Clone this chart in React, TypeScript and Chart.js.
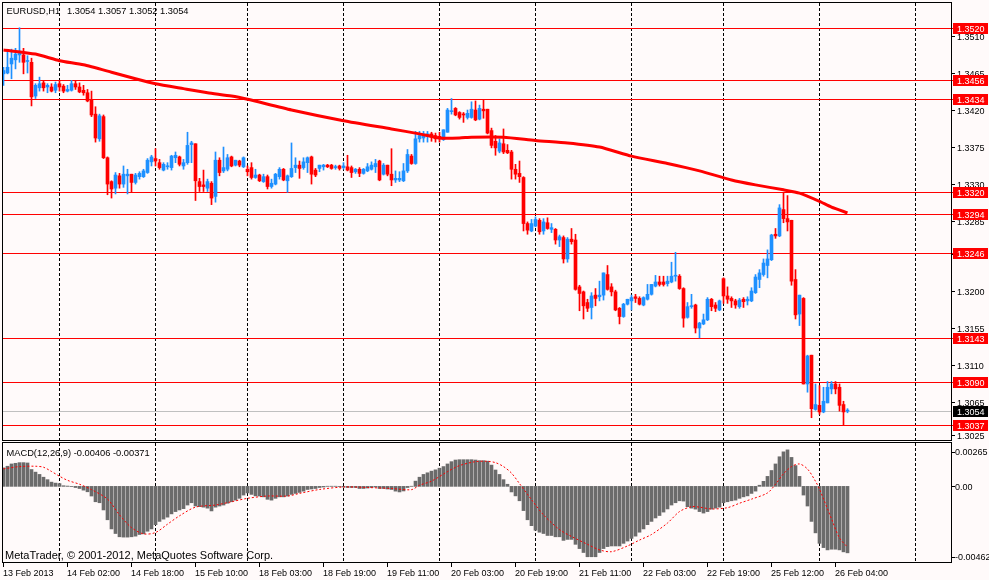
import { useEffect, useRef } from 'react';
import Chart from 'chart.js/auto';

const BG = '#fffafa';
const BULL = '#1e90ff';
const BEAR = '#ff0000';
const HIST = '#6b6b6b';
const FONT = '"Liberation Sans", Arial, sans-serif';

const WIDTH = 989;
const MAIN_HEIGHT = 441;
const MACD_HEIGHT = 139;
const X_MIN = -0.125;
const X_MAX = 236.875;
const PRICE_MIN = 1.30189;
const PRICE_MAX = 1.35501;

const symbol = 'EURUSD,H1';

// H1 candles, 13 Feb 10:00 .. 26 Feb 07:00
const opens = [
  1.3464, 1.3465, 1.3476, 1.3481, 1.3487, 1.3487, 1.3479, 1.3478, 1.3437, 1.3447,
  1.3453, 1.3448, 1.3448, 1.3444, 1.3452, 1.3449, 1.3443, 1.3444, 1.3452, 1.3448,
  1.3444, 1.3441, 1.3432, 1.3415, 1.3385, 1.3412, 1.3362, 1.3333, 1.3325, 1.334,
  1.333, 1.334, 1.3342, 1.3332, 1.3339, 1.3339, 1.3344, 1.3357, 1.3361, 1.3356,
  1.3347, 1.3351, 1.335, 1.3362, 1.3363, 1.3352, 1.3356, 1.3378, 1.3379, 1.3333,
  1.3329, 1.3325, 1.3331, 1.3315, 1.3359, 1.3346, 1.3348, 1.3363, 1.3353, 1.3358,
  1.3351, 1.3348, 1.335, 1.3338, 1.3341, 1.3333, 1.3339, 1.3327, 1.333, 1.3339,
  1.3348, 1.3334, 1.3339, 1.335, 1.3353, 1.335, 1.3356, 1.3363, 1.3347, 1.3349,
  1.3351, 1.3353, 1.3353, 1.335, 1.3352, 1.335, 1.3351, 1.335, 1.3345, 1.3348,
  1.3343, 1.3346, 1.3348, 1.3351, 1.3358, 1.3342, 1.3353, 1.3342, 1.3335, 1.3335,
  1.3334, 1.3346, 1.3364, 1.3355, 1.3385, 1.3386, 1.3389, 1.3391, 1.3389, 1.3388,
  1.3384, 1.3393, 1.3418, 1.3422, 1.3417, 1.3415, 1.3411, 1.3411, 1.342, 1.3409,
  1.3421, 1.3421, 1.3395, 1.3382, 1.337, 1.3379, 1.3371, 1.3369, 1.3348, 1.3343,
  1.3338, 1.3282, 1.3273, 1.3279, 1.3286, 1.3273, 1.3283, 1.3275, 1.3275, 1.3262,
  1.3265, 1.3239, 1.3263, 1.3262, 1.3205, 1.3199, 1.3186, 1.318, 1.3195, 1.3193,
  1.3195, 1.322, 1.3205, 1.3199, 1.3179, 1.3169, 1.3184, 1.3188, 1.3193, 1.3191,
  1.3183, 1.319, 1.3196, 1.3206, 1.3211, 1.3211, 1.3209, 1.3211, 1.3218, 1.3218,
  1.3203, 1.3168, 1.3181, 1.3183, 1.3155, 1.316, 1.3165, 1.319, 1.3183, 1.3177,
  1.3215, 1.3194, 1.3191, 1.3188, 1.3181, 1.319, 1.3188, 1.3188, 1.3198, 1.3214,
  1.322, 1.3231, 1.3238, 1.3269, 1.3267, 1.3299, 1.3288, 1.3286, 1.3214, 1.3172,
  1.3191, 1.3087, 1.3122, 1.3056, 1.3061, 1.3053, 1.3064, 1.3081, 1.3087, 1.3083,
  1.3062, 1.3054,
];
const highs = [
  1.3472, 1.3492, 1.3494, 1.3495, 1.352, 1.3495, 1.3486, 1.3483, 1.3452, 1.346,
  1.3456, 1.3452, 1.3452, 1.3454, 1.3456, 1.3451, 1.345, 1.3456, 1.3456, 1.3453,
  1.345, 1.3445, 1.3443, 1.3424, 1.3415, 1.3414, 1.3363, 1.3334, 1.3344, 1.3343,
  1.3352, 1.3348, 1.3342, 1.3343, 1.3345, 1.3348, 1.3361, 1.3365, 1.3373, 1.336,
  1.3356, 1.3356, 1.3365, 1.3369, 1.3364, 1.336, 1.3393, 1.3382, 1.3379, 1.3337,
  1.3347, 1.3336, 1.3333, 1.3369, 1.3362, 1.3375, 1.3366, 1.3364, 1.3359, 1.3359,
  1.3363, 1.3352, 1.3356, 1.3348, 1.3342, 1.3342, 1.3341, 1.3336, 1.3343, 1.335,
  1.3349, 1.3341, 1.338, 1.3362, 1.3358, 1.3362, 1.3363, 1.3364, 1.3349, 1.3353,
  1.3354, 1.3354, 1.3354, 1.3353, 1.3353, 1.3356, 1.3365, 1.3352, 1.3349, 1.335,
  1.3349, 1.3355, 1.3357, 1.336, 1.3359, 1.3355, 1.3353, 1.3373, 1.3346, 1.3345,
  1.3355, 1.3372, 1.3366, 1.3394, 1.3394, 1.3394, 1.3394, 1.3393, 1.3392, 1.3393,
  1.3396, 1.3422, 1.3434, 1.3423, 1.3418, 1.3417, 1.342, 1.343, 1.3431, 1.3426,
  1.3432, 1.3421, 1.3398, 1.3389, 1.3385, 1.3397, 1.3378, 1.3371, 1.3354, 1.3358,
  1.3339, 1.3284, 1.3287, 1.329, 1.3288, 1.3288, 1.3289, 1.3282, 1.3276, 1.3268,
  1.3267, 1.3265, 1.3276, 1.3269, 1.3207, 1.32, 1.319, 1.3198, 1.3203, 1.3212,
  1.3222, 1.3231, 1.3209, 1.3201, 1.318, 1.3185, 1.319, 1.3195, 1.3196, 1.3193,
  1.3193, 1.3208, 1.3208, 1.3219, 1.3218, 1.3218, 1.3218, 1.3235, 1.3247, 1.322,
  1.3204, 1.3186, 1.3196, 1.3184, 1.3162, 1.3172, 1.3192, 1.3191, 1.3186, 1.3189,
  1.3216, 1.3205, 1.3193, 1.319, 1.3191, 1.3192, 1.3193, 1.3204, 1.322, 1.3226,
  1.3239, 1.325, 1.3269, 1.3276, 1.3305, 1.332, 1.3316, 1.3286, 1.3226, 1.3195,
  1.3192, 1.3122, 1.3122, 1.3087, 1.3085, 1.3083, 1.309, 1.309, 1.309, 1.3087,
  1.3066, 1.3057,
];
const lows = [
  1.345, 1.3464, 1.3458, 1.347, 1.3478, 1.3464, 1.3465, 1.3425, 1.3434, 1.3443,
  1.3443, 1.3441, 1.3442, 1.3441, 1.3443, 1.3441, 1.3442, 1.3443, 1.3445, 1.3441,
  1.3438, 1.343, 1.3412, 1.3381, 1.3382, 1.3361, 1.3317, 1.3313, 1.3318, 1.3325,
  1.3326, 1.3318, 1.332, 1.333, 1.3336, 1.3338, 1.3343, 1.3352, 1.3352, 1.3348,
  1.3346, 1.3348, 1.3347, 1.3356, 1.3352, 1.3348, 1.3354, 1.3356, 1.331, 1.3321,
  1.3321, 1.3321, 1.3305, 1.3308, 1.334, 1.3344, 1.3346, 1.3351, 1.3352, 1.3351,
  1.335, 1.334, 1.3336, 1.3337, 1.3333, 1.3332, 1.3324, 1.3325, 1.3329, 1.3336,
  1.3334, 1.332, 1.3338, 1.3344, 1.3337, 1.3348, 1.3344, 1.333, 1.3339, 1.3345,
  1.3347, 1.335, 1.3348, 1.3348, 1.3347, 1.3348, 1.3346, 1.3338, 1.3343, 1.3339,
  1.3342, 1.3345, 1.3347, 1.3344, 1.3334, 1.3341, 1.334, 1.3328, 1.3332, 1.3333,
  1.3333, 1.3344, 1.3354, 1.3354, 1.3381, 1.3381, 1.3381, 1.3382, 1.3381, 1.3381,
  1.3383, 1.3393, 1.3415, 1.3413, 1.3409, 1.3405, 1.3409, 1.341, 1.3407, 1.3408,
  1.341, 1.3391, 1.3374, 1.3365, 1.3368, 1.3367, 1.3367, 1.3336, 1.3336, 1.3332,
  1.3273, 1.3269, 1.3272, 1.3278, 1.3269, 1.3269, 1.3275, 1.3271, 1.3257, 1.3254,
  1.3234, 1.3235, 1.3257, 1.3201, 1.3176, 1.3166, 1.3175, 1.3166, 1.3182, 1.3188,
  1.3189, 1.3201, 1.3194, 1.3176, 1.316, 1.3168, 1.3183, 1.3177, 1.3186, 1.3183,
  1.3182, 1.3189, 1.3195, 1.3205, 1.3206, 1.3206, 1.3206, 1.321, 1.3212, 1.3202,
  1.3156, 1.3167, 1.3179, 1.3149, 1.3143, 1.3159, 1.3164, 1.3176, 1.3175, 1.3176,
  1.3185, 1.3185, 1.318, 1.3179, 1.3179, 1.318, 1.3183, 1.3187, 1.3197, 1.3204,
  1.3218, 1.3216, 1.3237, 1.3264, 1.3266, 1.3283, 1.3273, 1.3207, 1.3166, 1.3158,
  1.3087, 1.3077, 1.3046, 1.3055, 1.305, 1.3052, 1.3064, 1.3075, 1.3075, 1.3054,
  1.3037, 1.3052,
];
const closes = [
  1.3468, 1.3472, 1.3483, 1.3488, 1.3489, 1.3478, 1.348, 1.3436, 1.345, 1.3452,
  1.3447, 1.345, 1.3443, 1.3451, 1.3448, 1.3443, 1.3445, 1.3452, 1.3448, 1.3442,
  1.3441, 1.3431, 1.3414, 1.3386, 1.3413, 1.3362, 1.333, 1.3324, 1.3341, 1.333,
  1.3342, 1.3342, 1.3332, 1.3341, 1.3343, 1.3346, 1.3359, 1.3363, 1.3358, 1.335,
  1.3354, 1.3352, 1.3364, 1.3365, 1.3354, 1.3356, 1.3377, 1.338, 1.3334, 1.3327,
  1.3327, 1.3333, 1.3313, 1.3359, 1.3344, 1.335, 1.3362, 1.3352, 1.3359, 1.3353,
  1.3362, 1.3345, 1.3338, 1.3341, 1.3334, 1.3339, 1.3327, 1.3331, 1.3342, 1.3348,
  1.3335, 1.334, 1.3349, 1.3353, 1.3349, 1.3357, 1.3362, 1.3342, 1.3341, 1.3353,
  1.3353, 1.3351, 1.3349, 1.3351, 1.3349, 1.3352, 1.3347, 1.3344, 1.3348, 1.3343,
  1.3348, 1.3351, 1.3353, 1.3355, 1.3335, 1.3353, 1.3342, 1.3335, 1.3337, 1.3337,
  1.3346, 1.3366, 1.3355, 1.3385, 1.3389, 1.3391, 1.3391, 1.3387, 1.3385, 1.3385,
  1.3396, 1.342, 1.3419, 1.3414, 1.3411, 1.3414, 1.3416, 1.3421, 1.3408, 1.3422,
  1.3419, 1.3392, 1.3377, 1.3374, 1.338, 1.3369, 1.3368, 1.3348, 1.3342, 1.3339,
  1.3282, 1.3274, 1.3282, 1.3287, 1.3272, 1.3284, 1.3276, 1.3277, 1.3262, 1.3266,
  1.3239, 1.3263, 1.326, 1.3202, 1.3197, 1.3182, 1.3179, 1.3194, 1.3191, 1.3195,
  1.3222, 1.3202, 1.3199, 1.3177, 1.3169, 1.3184, 1.319, 1.3192, 1.3191, 1.3184,
  1.3192, 1.3196, 1.3208, 1.3211, 1.3208, 1.3208, 1.3212, 1.3218, 1.3219, 1.3203,
  1.3167, 1.3181, 1.3182, 1.3155, 1.3161, 1.3165, 1.319, 1.3181, 1.3179, 1.3188,
  1.3194, 1.319, 1.3188, 1.3183, 1.3189, 1.3187, 1.319, 1.32, 1.3217, 1.3222,
  1.3234, 1.3239, 1.3268, 1.3267, 1.3301, 1.3288, 1.3284, 1.3212, 1.3171, 1.3195,
  1.3087, 1.3121, 1.3057, 1.3062, 1.3053, 1.3066, 1.3083, 1.3087, 1.3081, 1.3061,
  1.3053, 1.3054,
];

// moving average, read at these bars
const maIdx = [0, 8, 14, 20, 27, 33, 38, 45, 51, 57, 61, 72, 85, 97, 104, 109, 114, 117, 125, 133, 141, 149, 157, 166, 174, 182, 188, 195, 199, 204, 207, 211];
const maVal = [
  1.3493, 1.3488, 1.348, 1.3475, 1.3466, 1.3458, 1.3452, 1.3446, 1.3441, 1.3437,
  1.3433, 1.342, 1.3407, 1.3397, 1.3391, 1.3386, 1.3386, 1.3387, 1.3387, 1.3383,
  1.338, 1.3375, 1.3364, 1.3355, 1.3346, 1.3335, 1.3329, 1.3323, 1.3319, 1.3309,
  1.3302, 1.3295,
];

const levels = [1.352, 1.3456, 1.3434, 1.332, 1.3294, 1.3246, 1.3143, 1.309, 1.3037];
const priceTicks = [1.351, 1.3465, 1.342, 1.3375, 1.333, 1.3285, 1.3245, 1.32, 1.3155, 1.311, 1.3065, 1.3025];

// MACD(12,26,9) main line, one value per bar
const macd = [
  0.00113, 0.00123, 0.00137, 0.00141, 0.00145, 0.00145, 0.00143, 0.00103, 0.00087, 0.00073,
  0.00056, 0.00041, 0.00026, 0.0002, 0.00017, 0.00004, 0.00002, -0.00001, -0.00007, -0.00013,
  -0.00023, -0.00033, -0.00059, -0.00094, -0.001, -0.00144, -0.00204, -0.0026, -0.00288, -0.00308,
  -0.0031, -0.0031, -0.00308, -0.00304, -0.00294, -0.0029, -0.00274, -0.0026, -0.00234, -0.00214,
  -0.002, -0.00188, -0.00168, -0.00154, -0.00144, -0.00136, -0.00114, -0.001, -0.0012, -0.00124,
  -0.00127, -0.00133, -0.0015, -0.00127, -0.0012, -0.00114, -0.00103, -0.00094, -0.00084, -0.00073,
  -0.00053, -0.0004, -0.00049, -0.00058, -0.00059, -0.00064, -0.00079, -0.00084, -0.00073, -0.00064,
  -0.00064, -0.00059, -0.00049, -0.00043, -0.00037, -0.00029, -0.00019, -0.00016, -0.00013, -0.00007,
  -0.00004, 0.00001, 0.00001, 0.00001, -0.00001, -0.00004, -0.00007, -0.00007, -0.00007, -0.00013,
  -0.00013, -0.0001, -0.00007, -0.00004, -0.00013, -0.00013, -0.00016, -0.00019, -0.00029, -0.00034,
  -0.00028, -0.00007, 0.00001, 0.00032, 0.00056, 0.00073, 0.00083, 0.00093, 0.00101, 0.00111,
  0.00121, 0.00137, 0.00151, 0.00161, 0.00163, 0.00163, 0.00163, 0.00163, 0.00161, 0.00157,
  0.00157, 0.00154, 0.0013, 0.001, 0.00073, 0.00041, 0.00013, -0.00034, -0.00058, -0.00088,
  -0.00148, -0.00204, -0.0024, -0.00268, -0.0028, -0.00288, -0.003, -0.003, -0.00308, -0.00308,
  -0.0033, -0.00324, -0.00324, -0.00354, -0.0038, -0.00404, -0.0043, -0.0043, -0.0043, -0.00404,
  -0.0038, -0.00368, -0.00364, -0.00364, -0.00364, -0.00348, -0.00334, -0.00318, -0.00304, -0.0028,
  -0.0026, -0.00234, -0.00214, -0.00193, -0.00178, -0.00157, -0.00138, -0.00114, -0.001, -0.00088,
  -0.0009, -0.00124, -0.00133, -0.00139, -0.00154, -0.00163, -0.00154, -0.00139, -0.00133, -0.00127,
  -0.001, -0.00094, -0.00088, -0.00084, -0.00073, -0.00064, -0.00058, -0.00043, -0.00029, 0.00007,
  0.00031, 0.00061, 0.00097, 0.00137, 0.00181, 0.00211, 0.00223, 0.00177, 0.00127, 0.00061,
  -0.00053, -0.0012, -0.00214, -0.00284, -0.00348, -0.00374, -0.00388, -0.00384, -0.00384, -0.00388,
  -0.004, -0.00406,
];

// signal line, read at these bars
const sigIdx = [
  0, 4, 8, 10, 12, 14, 16, 19, 22, 26, 29, 32, 35, 38, 41, 44, 48, 53, 57, 61,
  66, 71, 74, 79, 85, 91, 97, 102, 104, 107, 111, 114, 118, 121, 123, 125, 127, 129, 132, 135,
  139, 142, 146, 149, 152, 156, 159, 162, 166, 169, 172, 174, 177, 181, 184, 187, 191, 193, 195, 197,
  199, 201, 203, 204, 207, 209, 211,
];
const sigVal = [
  0.00107, 0.00121, 0.00123, 0.00117, 0.00091, 0.00062, 0.00037, 0.00013, -0.0002, -0.00078,
  -0.00174, -0.00252, -0.0029, -0.00282, -0.00231, -0.0018, -0.00127, -0.00114, -0.00094, -0.00073,
  -0.00059, -0.00059, -0.00043, -0.00019, -0.00004, -0.00007, -0.00013, -0.0002, 0.00007, 0.00032,
  0.0009, 0.00127, 0.00151, 0.00153, 0.00145, 0.00121, 0.00081, 0.00017, -0.00081, -0.00174,
  -0.00264, -0.00306, -0.00354, -0.00388, -0.00399, -0.00364, -0.00328, -0.00294, -0.00224, -0.00154,
  -0.00124, -0.00127, -0.00138, -0.0013, -0.00103, -0.00078, -0.0004, 0.00013, 0.00077, 0.00121,
  0.00137, 0.00106, 0.00031, -0.00017, -0.00198, -0.00315, -0.00371,
];
const macdTicks = [0.00265, 0, -0.00462];

const dayBreaks = [14, 38, 61, 85, 109, 133, 157, 180, 204, 228];
const timeIdx = [0, 16, 32, 48, 64, 80, 96, 112, 128, 144, 160, 176, 192, 208];
const timeText = [
  '13 Feb 2013', '14 Feb 02:00', '14 Feb 18:00', '15 Feb 10:00', '18 Feb 03:00', '18 Feb 19:00', '19 Feb 11:00',
  '20 Feb 03:00', '20 Feb 19:00', '21 Feb 11:00', '22 Feb 03:00', '22 Feb 19:00', '25 Feb 12:00', '26 Feb 04:00',
];

const last = closes.length - 1;
const bars = closes.map((_, i) => i);

function candleColor(c: any) {
  const i = c.dataIndex;
  return closes[i] >= opens[i] ? BULL : BEAR;
}

function hline(ctx: CanvasRenderingContext2D, py: number, x0: number, x1: number) {
  const yy = Math.round(py) + 0.5;
  ctx.beginPath();
  ctx.moveTo(x0, yy);
  ctx.lineTo(x1, yy);
  ctx.stroke();
}

function drawDayBreaks(chart: any) {
  const { ctx, chartArea: a } = chart;
  const xs = chart.scales.x;
  ctx.save();
  ctx.strokeStyle = '#000000';
  ctx.lineWidth = 1;
  ctx.setLineDash([3, 2]);
  dayBreaks.forEach((d) => {
    const px = Math.floor(xs.getPixelForValue(d)) + 0.5;
    if (px < a.left || px > a.right) return;
    ctx.beginPath();
    ctx.moveTo(px, a.top);
    ctx.lineTo(px, a.bottom);
    ctx.stroke();
  });
  ctx.restore();
}

function drawFrame(chart: any) {
  const { ctx, chartArea: a } = chart;
  ctx.save();
  ctx.strokeStyle = '#000000';
  ctx.lineWidth = 1;
  ctx.strokeRect(a.left - 0.5, a.top - 0.5, a.right - a.left + 1, a.bottom - a.top + 1);
  ctx.restore();
}

function priceTag(ctx: CanvasRenderingContext2D, py: number, text: string, bg: string) {
  const yy = Math.round(py);
  ctx.fillStyle = bg;
  ctx.fillRect(953, yy - 5, 35, 11);
  ctx.fillStyle = '#ffffff';
  ctx.fillText(text, 957, yy + 3.5);
}

const mainDecor = {
  id: 'mainDecor',
  beforeDatasetsDraw(chart: any) {
    const { ctx, chartArea: a } = chart;
    const ys = chart.scales.y;
    drawDayBreaks(chart);
    ctx.save();
    ctx.lineWidth = 1;
    ctx.strokeStyle = '#c0c0c0';
    hline(ctx, ys.getPixelForValue(closes[last]), a.left, a.right);
    ctx.strokeStyle = BEAR;
    levels.forEach((l) => hline(ctx, ys.getPixelForValue(l), a.left, a.right + 2));
    ctx.restore();
  },
  afterDraw(chart: any) {
    const { ctx, chartArea: a } = chart;
    const ys = chart.scales.y;
    drawFrame(chart);
    ctx.save();
    ctx.font = `9px ${FONT}`;
    ctx.textAlign = 'left';
    ctx.textBaseline = 'alphabetic';
    ctx.strokeStyle = '#000000';
    ctx.fillStyle = '#000000';
    priceTicks.forEach((t) => {
      const py = ys.getPixelForValue(t);
      hline(ctx, py, a.right + 1, a.right + 4);
      ctx.fillText(t.toFixed(4), 957, Math.round(py) + 3.5);
    });
    levels.forEach((l) => priceTag(ctx, ys.getPixelForValue(l), l.toFixed(4), BEAR));
    priceTag(ctx, ys.getPixelForValue(closes[last]), closes[last].toFixed(4), '#000000');

    ctx.fillStyle = '#000000';
    ctx.font = `9.3px ${FONT}`;
    ctx.fillText(symbol, 6.5, 14);
    const ohlc = [opens[last], highs[last], lows[last], closes[last]].map((v) => v.toFixed(4)).join(' ');
    ctx.fillText(ohlc, 67, 14);
    ctx.restore();
  },
};

const macdDecor = {
  id: 'macdDecor',
  beforeDatasetsDraw(chart: any) {
    drawDayBreaks(chart);
  },
  afterDraw(chart: any) {
    const { ctx, chartArea: a } = chart;
    const xs = chart.scales.x;
    const ys = chart.scales.y;
    drawFrame(chart);
    ctx.save();
    ctx.strokeStyle = '#000000';
    ctx.fillStyle = '#000000';
    ctx.lineWidth = 1;
    ctx.font = `9px ${FONT}`;
    ctx.textAlign = 'left';
    ctx.textBaseline = 'alphabetic';
    macdTicks.forEach((t) => {
      const py = ys.getPixelForValue(t);
      const base = Math.min(Math.max(Math.round(py) + 3.5, a.top + 12), a.bottom - 2);
      hline(ctx, base - 3.5, a.right + 1, a.right + 4);
      ctx.fillText(t === 0 ? '0.00' : t.toFixed(5), 955, base);
    });
    timeIdx.forEach((t, k) => {
      const px = Math.floor(xs.getPixelForValue(t)) + 0.5;
      ctx.beginPath();
      ctx.moveTo(px, a.bottom + 1);
      ctx.lineTo(px, a.bottom + 5);
      ctx.stroke();
      ctx.fillText(timeText[k], px - 0.5, a.bottom + 14);
    });
    ctx.font = `9.3px ${FONT}`;
    ctx.fillText(`MACD(12,26,9) ${macd[last].toFixed(5)} ${sigVal[sigVal.length - 1].toFixed(5)}`, 6.5, a.top + 13);
    ctx.font = `11px ${FONT}`;
    ctx.fillText('MetaTrader, \u00a9 2001-2012, MetaQuotes Software Corp.', 5, a.bottom - 3);
    ctx.restore();
  },
};

const xScale = { type: 'linear', display: false, min: X_MIN, max: X_MAX, offset: false };

export default function App() {
  const mainRef = useRef<HTMLCanvasElement>(null);
  const macdRef = useRef<HTMLCanvasElement>(null);

  useEffect(() => {
    if (!mainRef.current || !macdRef.current) return;

    const mainChart = new Chart(mainRef.current, {
      type: 'bar',
      data: {
        datasets: [
          {
            type: 'line',
            label: 'MA',
            data: maIdx.map((x, k) => ({ x, y: maVal[k] })),
            borderColor: BEAR,
            borderWidth: 3,
            pointRadius: 0,
            tension: 0.2,
          },
          {
            type: 'bar',
            label: 'body',
            data: bars.map((i) => ({ x: i, y: [opens[i], closes[i]] })),
            backgroundColor: candleColor,
            barThickness: 3,
            minBarLength: 1,
            grouped: false,
            borderWidth: 0,
          },
          {
            type: 'bar',
            label: 'wick',
            data: bars.map((i) => ({ x: i, y: [lows[i], highs[i]] })),
            backgroundColor: candleColor,
            barThickness: 1,
            minBarLength: 1,
            grouped: false,
            borderWidth: 0,
          },
        ],
      } as any,
      options: {
        responsive: false,
        animation: false,
        events: [],
        layout: { padding: { left: 3, right: WIDTH - 951, top: 3, bottom: 1 } },
        plugins: { legend: { display: false }, tooltip: { enabled: false } },
        scales: {
          x: xScale,
          y: { type: 'linear', display: false, min: PRICE_MIN, max: PRICE_MAX },
        },
      } as any,
      plugins: [mainDecor],
    });

    const macdChart = new Chart(macdRef.current, {
      type: 'bar',
      data: {
        datasets: [
          {
            type: 'line',
            label: 'Signal',
            data: sigIdx.map((x, k) => ({ x, y: sigVal[k] })),
            borderColor: BEAR,
            borderWidth: 1,
            borderDash: [2, 2],
            pointRadius: 0,
            tension: 0.3,
          },
          {
            type: 'bar',
            label: 'MACD',
            data: bars.map((i) => ({ x: i, y: macd[i] })),
            backgroundColor: HIST,
            barThickness: 3,
            grouped: false,
            borderWidth: 0,
          },
        ],
      } as any,
      options: {
        responsive: false,
        animation: false,
        events: [],
        layout: { padding: { left: 3, right: WIDTH - 951, top: 2, bottom: 18 } },
        plugins: { legend: { display: false }, tooltip: { enabled: false } },
        scales: {
          x: xScale,
          y: { type: 'linear', display: false, min: macdTicks[2], max: macdTicks[0] },
        },
      } as any,
      plugins: [macdDecor],
    });

    return () => {
      mainChart.destroy();
      macdChart.destroy();
    };
  }, []);

  return (
    <div style={{ position: 'fixed', left: 0, top: 0, width: WIDTH, height: 580, background: BG }}>
      <canvas
        ref={mainRef}
        width={WIDTH}
        height={MAIN_HEIGHT}
        style={{ position: 'absolute', left: 0, top: 0, width: WIDTH, height: MAIN_HEIGHT }}
      />
      <canvas
        ref={macdRef}
        width={WIDTH}
        height={MACD_HEIGHT}
        style={{ position: 'absolute', left: 0, top: MAIN_HEIGHT, width: WIDTH, height: MACD_HEIGHT }}
      />
    </div>
  );
}
